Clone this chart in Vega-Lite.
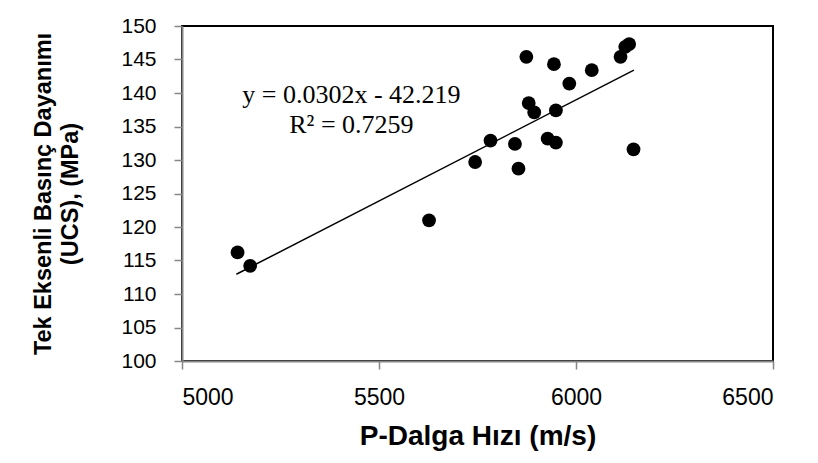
{
  "$schema": "https://vega.github.io/schema/vega-lite/v6.json",
  "width": 591,
  "height": 335,
  "autosize": {"type": "none"},
  "padding": {"left": 182, "top": 26, "right": 45, "bottom": 102},
  "background": "white",
  "config": {
    "view": {"stroke": "black", "strokeWidth": 2},
    "axis": {
      "grid": false,
      "domainColor": "#868686",
      "domainWidth": 2,
      "tickColor": "#868686",
      "tickWidth": 1.5,
      "tickSize": 8,
      "labelFont": "Liberation Sans",
      "labelColor": "black",
      "titleFont": "Liberation Sans",
      "titleFontWeight": "bold",
      "titleColor": "black",
      "labelOverlap": false
    }
  },
  "encoding": {
    "x": {
      "field": "vp", "type": "quantitative",
      "scale": {"domain": [5000, 6500], "nice": false, "zero": false},
      "axis": {
        "values": [5000, 5500, 6000, 6500],
        "format": "d",
        "labelFontSize": 23,
        "labelPadding": 17,
        "titleFontSize": 28,
        "titlePadding": 13
      },
      "title": "P-Dalga Hızı  (m/s)"
    },
    "y": {
      "field": "ucs", "type": "quantitative",
      "scale": {"domain": [100, 150], "nice": false, "zero": false},
      "axis": {
        "values": [100, 105, 110, 115, 120, 125, 130, 135, 140, 145, 150],
        "format": "d",
        "labelFontSize": 21,
        "labelPadding": 18,
        "titleFontSize": 23.5,
        "titleLineHeight": 27,
        "titlePadding": 38
      },
      "title": ["Tek Eksenli Basınç Dayanımı", "(UCS),  (MPa)"]
    }
  },
  "layer": [
    {
      "data": {"values": [
        {"vp": 5138, "ucs": 112.95},
        {"vp": 6147, "ucs": 143.42}
      ]},
      "mark": {"type": "line", "color": "black", "strokeWidth": 1.5}
    },
    {
      "data": {"values": [
        {"vp": 5141, "ucs": 116.2},
        {"vp": 5173, "ucs": 114.2},
        {"vp": 5627, "ucs": 121.0},
        {"vp": 5744, "ucs": 129.7},
        {"vp": 5783, "ucs": 132.9},
        {"vp": 5845, "ucs": 132.4},
        {"vp": 5854, "ucs": 128.7},
        {"vp": 5874, "ucs": 145.4},
        {"vp": 5880, "ucs": 138.5},
        {"vp": 5894, "ucs": 137.1},
        {"vp": 5928, "ucs": 133.2},
        {"vp": 5949, "ucs": 132.6},
        {"vp": 5944, "ucs": 144.3},
        {"vp": 5949, "ucs": 137.4},
        {"vp": 5983, "ucs": 141.4},
        {"vp": 6040, "ucs": 143.4},
        {"vp": 6113, "ucs": 145.4},
        {"vp": 6125, "ucs": 146.9},
        {"vp": 6135, "ucs": 147.3},
        {"vp": 6146, "ucs": 131.6}
      ]},
      "mark": {"type": "point", "filled": true, "shape": "circle", "color": "black", "opacity": 1, "size": 190}
    },
    {
      "data": {"values": [
        {"vp": 5430, "ucs": 138.5, "label": "y = 0.0302x - 42.219"},
        {"vp": 5430, "ucs": 134.0, "label": "R² = 0.7259"}
      ]},
      "mark": {"type": "text", "font": "Liberation Serif", "fontSize": 26, "color": "black", "align": "center", "baseline": "alphabetic"},
      "encoding": {
        "text": {"field": "label"}
      }
    }
  ]
}
